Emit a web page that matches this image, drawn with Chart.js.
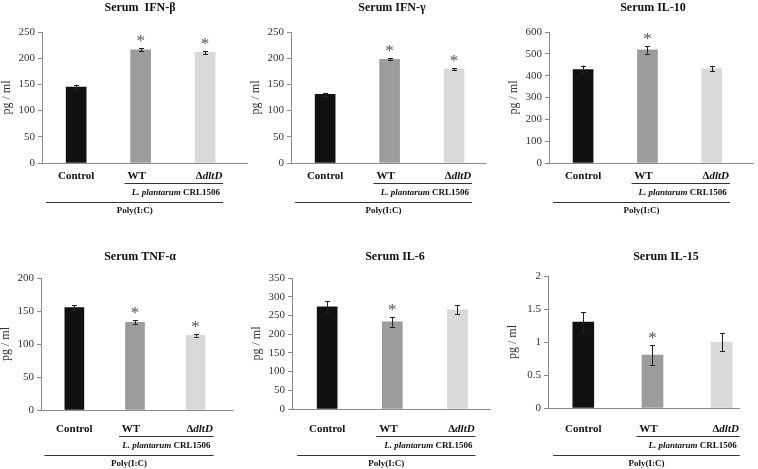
<!DOCTYPE html>
<html>
<head>
<meta charset="utf-8">
<script src="https://cdn.jsdelivr.net/npm/chart.js@4.4.0/dist/chart.umd.min.js"></script>
<style>
  html, body { margin: 0; padding: 0; background: #fff; }
  #wrap { position: relative; width: 758px; height: 469px; overflow: hidden; }
  #wrap canvas { position: absolute; }
</style>
</head>
<body>
<div id="wrap"></div>
<script>
// ── Data ──────────────────────────────────────────────
const CATEGORIES = ['Control', 'WT', 'ΔdltD'];
const GROUP_LABEL = 'L. plantarum CRL1506';
const TREATMENT = 'Poly(I:C)';
const Y_TITLE = 'pg / ml';

const TITLES = ['Serum  IFN-β', 'Serum IFN-γ', 'Serum IL-10', 'Serum TNF-α', 'Serum IL-6', 'Serum IL-15'];

const IFN_BETA      = [145, 216, 211];
const IFN_BETA_ERR  = [4, 3, 3];
const IFN_GAMMA     = [131, 198, 179];
const IFN_GAMMA_ERR = [3, 2, 2];
const IL10          = [428, 518, 433];
const IL10_ERR      = [18, 17, 12];
const TNF_ALPHA     = [155, 133, 113];
const TNF_ALPHA_ERR = [4, 3, 2];
const IL6           = [273, 233, 265];
const IL6_ERR       = [15, 13, 12];
const IL15          = [1.3, 0.8, 1.0];
const IL15_ERR      = [0.15, 0.15, 0.14];

const VALUES = [IFN_BETA, IFN_GAMMA, IL10, TNF_ALPHA, IL6, IL15];
const ERRORS = [IFN_BETA_ERR, IFN_GAMMA_ERR, IL10_ERR, TNF_ALPHA_ERR, IL6_ERR, IL15_ERR];
const SIGNIF = [[0, 1, 1], [0, 1, 1], [0, 1, 0], [0, 1, 1], [0, 1, 0], [0, 1, 0]];

const Y_MAX  = [250, 250, 600, 200, 350, 2];
const Y_STEP = [50, 50, 100, 50, 50, 0.5];

// ── Styles / layout ───────────────────────────────────
const BAR_COLORS = ['#111111', '#9c9c9c', '#d9d9d9'];
const AXIS = '#8a8a8a';
const SERIF = 'Liberation Serif';

// box: canvas [x, y, w, h]; plot: [left, top, right, bottom] in page pixels
const PANELS = [
  { box: [0, 0, 250, 235],     plot: [42, 32, 247, 163],   xr: [-0.53, 2.65], titleX: 140, titleY: 8,   bar: 20, gaps: [13.5, 20, 30, 39, 48] },
  { box: [250, 0, 250, 235],   plot: [291, 32, 485, 163],  xr: [-0.53, 2.48], titleX: 392, titleY: 8,   bar: 20, gaps: [13.5, 20, 30, 39, 48] },
  { box: [500, 0, 258, 235],   plot: [549, 32, 753, 163],  xr: [-0.53, 2.64], titleX: 653, titleY: 8,   bar: 20, gaps: [13.5, 20, 30, 39, 48] },
  { box: [0, 235, 250, 234],   plot: [41, 278, 232, 410],  xr: [-0.55, 2.6],  titleX: 140, titleY: 257, bar: 19, gaps: [19, 26, 36, 45, 54] },
  { box: [250, 235, 250, 234], plot: [292, 278, 490, 409], xr: [-0.54, 2.5],  titleX: 395, titleY: 257, bar: 20, gaps: [20, 27, 37, 46, 55] },
  { box: [500, 235, 258, 234], plot: [548, 276, 739, 408], xr: [-0.51, 2.25], titleX: 666, titleY: 257, bar: 21, gaps: [21, 28, 38, 47, 56] },
];

Chart.defaults.font.family = SERIF;
Chart.defaults.color = '#333';

// ── Plugin: title, error bars, asterisks, group labels ──
const extras = {
  id: 'extras',
  afterDatasetsDraw(chart, args, o) {
    const { ctx, chartArea } = chart;
    const xs = chart.scales.x, ys = chart.scales.y;
    const cx = [0, 1, 2].map(i => xs.getPixelForValue(i));
    ctx.save();

    // title
    ctx.fillStyle = '#111';
    ctx.font = `bold 12px ${SERIF}`;
    ctx.textAlign = 'center';
    ctx.textBaseline = 'middle';
    ctx.fillText(o.title, o.titleX, o.titleY);

    // error bars + asterisks
    ctx.strokeStyle = '#222';
    ctx.lineWidth = 1;
    o.values.forEach((v, i) => {
      const x = Math.round(cx[i]) + 0.5;
      const hi = ys.getPixelForValue(v + o.errors[i]);
      const lo = ys.getPixelForValue(v - o.errors[i]);
      ctx.beginPath();
      ctx.moveTo(x, hi); ctx.lineTo(x, lo);
      ctx.moveTo(x - 2.5, Math.round(hi) + 0.5); ctx.lineTo(x + 2.5, Math.round(hi) + 0.5);
      ctx.moveTo(x - 2.5, Math.round(lo) + 0.5); ctx.lineTo(x + 2.5, Math.round(lo) + 0.5);
      ctx.stroke();
      if (o.signif[i]) {
        ctx.fillStyle = '#555';
        ctx.font = `17px ${SERIF}`;
        ctx.textBaseline = 'alphabetic';
        ctx.fillText('*', cx[i], hi - 2);
      }
    });

    // category labels
    const b = chartArea.bottom;
    const g = o.gaps;
    ctx.fillStyle = '#111';
    ctx.textBaseline = 'middle';
    ctx.font = `bold 11px ${SERIF}`;
    ctx.textAlign = 'center';
    ctx.fillText(CATEGORIES[0], cx[0], b + g[0]);
    ctx.fillText(CATEGORIES[1], cx[1] - 4, b + g[0]);
    // Δ upright + dltD italic
    const delta = CATEGORIES[2].slice(0, 1), rest = CATEGORIES[2].slice(1);
    ctx.font = `bold 11px ${SERIF}`;
    const w1 = ctx.measureText(delta).width;
    ctx.font = `italic bold 11px ${SERIF}`;
    const w2 = ctx.measureText(rest).width;
    let sx = cx[2] + 4 - (w1 + w2) / 2;
    ctx.textAlign = 'left';
    ctx.font = `bold 11px ${SERIF}`;
    ctx.fillText(delta, sx, b + g[0]);
    ctx.font = `italic bold 11px ${SERIF}`;
    ctx.fillText(rest, sx + w1, b + g[0]);

    // bracket lines
    const lineEnd = cx[2] + 18;
    ctx.strokeStyle = '#333';
    ctx.beginPath();
    ctx.moveTo(cx[1] - 16, Math.round(b + g[1]) + 0.5);
    ctx.lineTo(lineEnd, Math.round(b + g[1]) + 0.5);
    ctx.moveTo(cx[0] - 30, Math.round(b + g[3]) + 0.5);
    ctx.lineTo(lineEnd, Math.round(b + g[3]) + 0.5);
    ctx.stroke();

    // strain label: italic species + upright strain
    const sp = GROUP_LABEL.slice(0, 12), st = GROUP_LABEL.slice(12);
    ctx.font = `bold 9px ${SERIF}`;
    const ws = ctx.measureText(st).width;
    ctx.font = `italic bold 9px ${SERIF}`;
    const wp = ctx.measureText(sp).width;
    sx = lineEnd - 3 - ws - wp;
    ctx.fillText(sp, sx, b + g[2]);
    ctx.font = `bold 9px ${SERIF}`;
    ctx.fillText(st, sx + wp, b + g[2]);

    // treatment
    ctx.textAlign = 'center';
    ctx.font = `bold 9px ${SERIF}`;
    ctx.fillText(TREATMENT, cx[1] - 6, b + g[4]);

    ctx.restore();
  },
};

// ── Build panels ──────────────────────────────────────
const wrap = document.getElementById('wrap');
const Y_AXIS_W = 42;

PANELS.forEach((p, k) => {
  const [bx, by, bw, bh] = p.box;
  const [pl, pt, pr, pb] = p.plot;
  const canvas = document.createElement('canvas');
  canvas.width = bw;
  canvas.height = bh;
  canvas.style.left = bx + 'px';
  canvas.style.top = by + 'px';
  canvas.style.width = bw + 'px';
  canvas.style.height = bh + 'px';
  wrap.appendChild(canvas);

  new Chart(canvas, {
    type: 'bar',
    data: {
      datasets: [{
        data: VALUES[k].map((v, i) => ({ x: i, y: v })),
        backgroundColor: BAR_COLORS,
        borderWidth: 0,
        barThickness: p.bar,
      }],
    },
    options: {
      responsive: false,
      animation: false,
      layout: {
        padding: { top: pt - by, left: pl - bx - Y_AXIS_W, right: bx + bw - pr, bottom: 0 },
      },
      plugins: {
        legend: { display: false },
        tooltip: { enabled: false },
        extras: {
          title: TITLES[k],
          titleX: p.titleX - bx,
          titleY: p.titleY - by,
          values: VALUES[k],
          errors: ERRORS[k],
          signif: SIGNIF[k],
          gaps: p.gaps,
        },
      },
      scales: {
        x: {
          type: 'linear',
          min: p.xr[0],
          max: p.xr[1],
          offset: false,
          grid: { display: false },
          ticks: { display: false },
          border: { display: true, color: AXIS, width: 1 },
          afterFit: (s) => { s.height = by + bh - pb; },
        },
        y: {
          min: 0,
          max: Y_MAX[k],
          ticks: {
            stepSize: Y_STEP[k],
            padding: 3,
            color: '#333',
            font: { size: 11, family: SERIF },
            callback: (v) => String(v),
          },
          grid: { drawOnChartArea: false, drawTicks: true, tickLength: 4, color: AXIS },
          border: { display: true, color: AXIS, width: 1 },
          title: {
            display: true,
            text: Y_TITLE,
            color: '#333',
            font: { size: 12, family: SERIF },
            padding: { top: 0, bottom: 0 },
          },
          afterFit: (s) => { s.width = Y_AXIS_W; },
        },
      },
    },
    plugins: [extras],
  });
});
</script>
</body>
</html>
